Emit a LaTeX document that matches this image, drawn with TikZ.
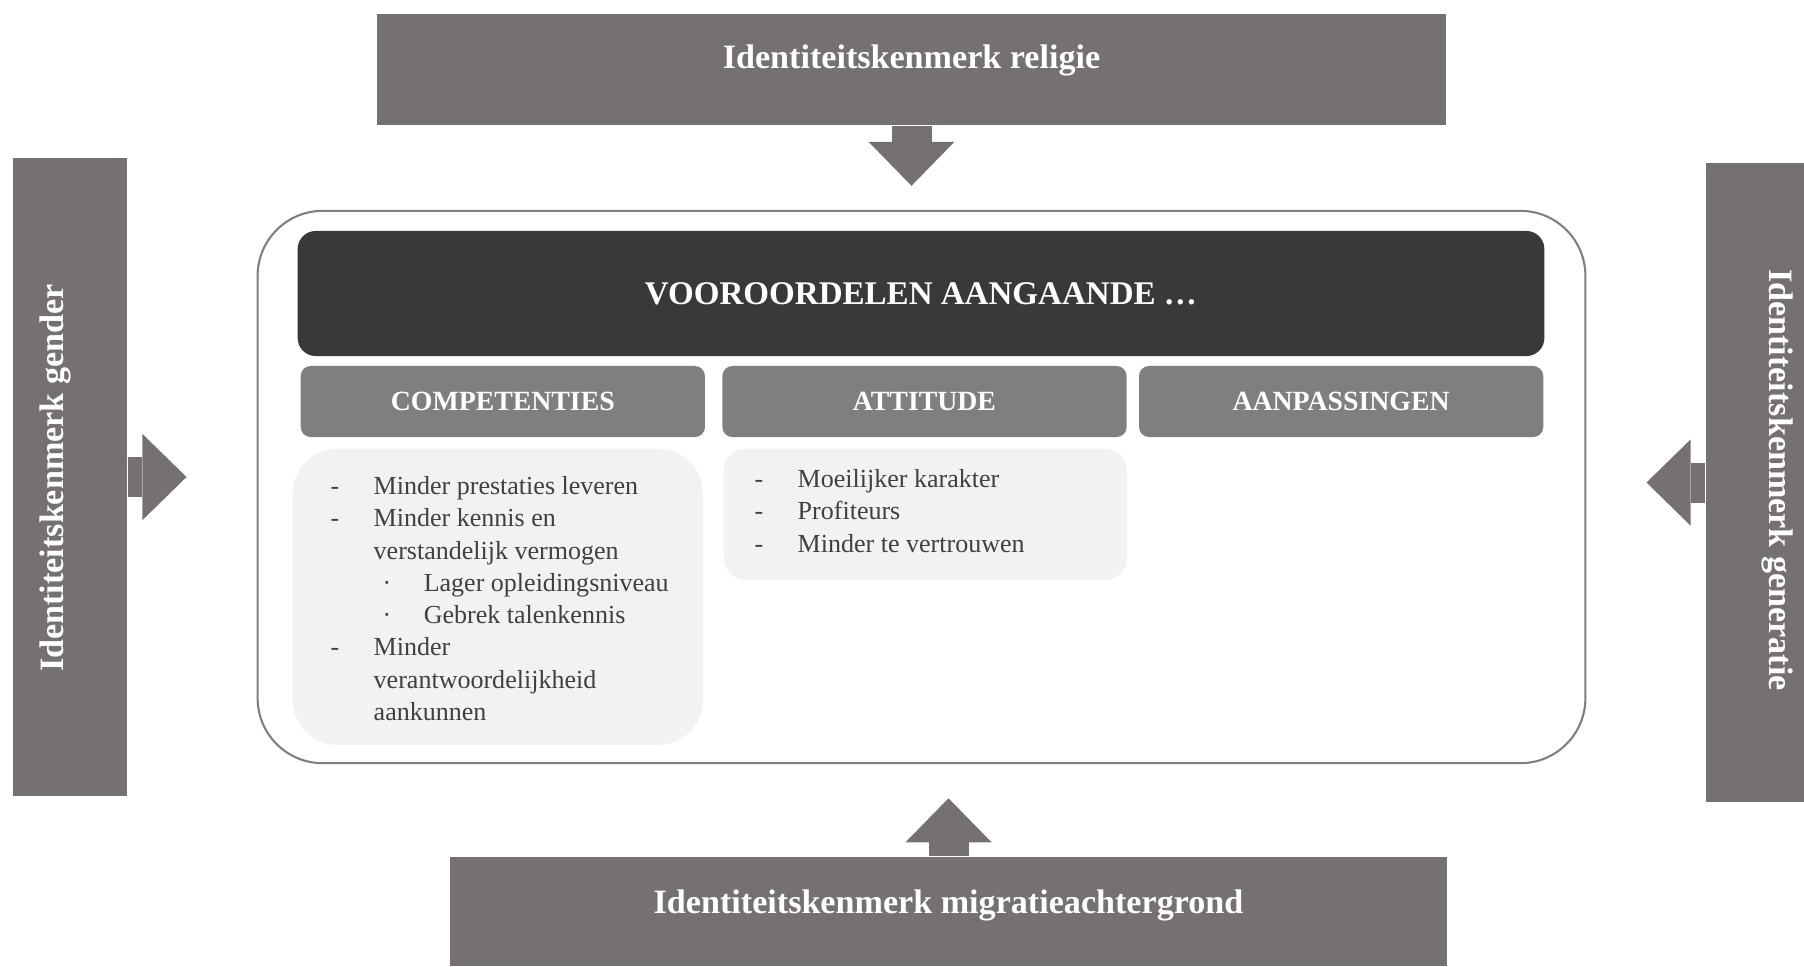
\documentclass[tikz,border=0pt]{standalone}
\usepackage{fontspec}
\setmainfont{Liberation Serif}
\usetikzlibrary{arrows.meta, positioning}

\definecolor{boxgray}{HTML}{767171}
\definecolor{headdark}{HTML}{3B3838}
\definecolor{catgray}{HTML}{7F7F7F}
\definecolor{listfill}{HTML}{F2F2F2}
\definecolor{itemgray}{HTML}{404040}
\definecolor{framegray}{HTML}{808080}

\newcommand{\listdash}{\makebox[0.43cm][l]{-}}
\newcommand{\listdot}{\hspace*{0.52cm}\makebox[0.41cm][l]{·}}
\newcommand{\listgap}{\hspace*{0.43cm}}

\begin{document}
\begin{tikzpicture}[
    x=0.01cm, y=-0.01cm,
    sidebox/.style={
        rectangle,
        fill=boxgray,
        inner sep=0pt
    },
    sidetext/.style={
        text=white,
        inner sep=0pt,
        font=\fontsize{9.7}{11.6}\selectfont\bfseries
    },
    frame/.style={
        rectangle,
        rounded corners=0.65cm,
        draw=framegray,
        line width=0.6pt,
        fill=white,
        minimum width=13.27cm,
        minimum height=5.52cm,
        inner sep=0pt
    },
    header/.style={
        rectangle,
        rounded corners=0.18cm,
        fill=headdark,
        text=white,
        minimum width=12.46cm,
        minimum height=1.25cm,
        inner sep=0pt,
        font=\fontsize{9.4}{11}\selectfont\bfseries
    },
    category/.style={
        rectangle,
        rounded corners=0.1cm,
        fill=catgray,
        text=white,
        minimum width=4.04cm,
        minimum height=0.71cm,
        inner sep=0pt,
        font=\fontsize{7.9}{9.5}\selectfont\bfseries
    },
    listbox/.style={
        rectangle,
        fill=listfill,
        inner sep=0pt
    },
    listtext/.style={
        text=itemgray,
        align=left,
        inner sep=0pt,
        font=\fontsize{7.4}{9.16}\selectfont
    },
    blockarrow/.style={draw=boxgray, line width=0.4cm,
        -{Triangle[width=0.86cm, length=0.44cm, line width=0pt]}}
]
\useasboundingbox (0,0) rectangle (1804,966);

% outer blocks
\node[sidebox, minimum width=10.69cm, minimum height=1.11cm] (religie) at (911.5,69.5) {};
\node[sidetext] (religielabel) at (911.5,60) {Identiteitskenmerk religie};

\node[sidebox, minimum width=1.14cm, minimum height=6.38cm] (gender) at (70,477) {};
\node[sidetext, rotate=90] (genderlabel) at (55,478) {Identiteitskenmerk gender};

\node[sidebox, minimum width=0.98cm, minimum height=6.39cm] (generatie) at (1755,482.5) {};
\node[sidetext, rotate=-90] (generatielabel) at (1778,480) {Identiteitskenmerk generatie};

\node[sidebox, minimum width=9.97cm, minimum height=1.09cm] (migratie) at (948.5,911.5) {};
\node[sidetext] (migratielabel) at (948.5,905) {Identiteitskenmerk migratieachtergrond};

% central frame
\node[frame] (kader) at (921.5,487) {};
\node[header] (vooroordelen) at (921,293.5) {VOOROORDELEN AANGAANDE …};

\node[category, anchor=west] (competenties) at (300,401.5) {COMPETENTIES};
\node[category, right=0.16cm of competenties] (attitude) {ATTITUDE};
\node[category, right=0.11cm of attitude] (aanpassingen) {AANPASSINGEN};

\node[listbox, rounded corners=0.45cm, minimum width=4.1cm, minimum height=2.96cm,
    anchor=north west] (competentiesbox) at (292,448) {};
\node[listbox, rounded corners=0.22cm, minimum width=4.03cm, minimum height=1.31cm,
    anchor=north west] (attitudebox) at (723,448) {};

\node[listtext, anchor=north west] (competentieslist) at (330,476) {%
    \listdash Minder prestaties leveren\\
    \listdash Minder kennis en\\
    \listgap verstandelijk vermogen\\
    \listdot Lager opleidingsniveau\\
    \listdot Gebrek talenkennis\\
    \listdash Minder\\
    \listgap verantwoordelijkheid\\
    \listgap aankunnen};

\node[listtext, anchor=north west] (attitudelist) at (754,469) {%
    \listdash Moeilijker karakter\\
    \listdash Profiteurs\\
    \listdash Minder te vertrouwen};

% Arrows
\draw[blockarrow, shorten >=0.24cm] (religie.south) -- (religie.south |- kader.north);
\draw[blockarrow, shorten >=0.70cm] (gender.east) -- (gender.east -| kader.west);
\draw[blockarrow, shorten >=0.60cm] (generatie.west) -- (generatie.west -| kader.east);
\draw[blockarrow, shorten >=0.34cm] (migratie.north) -- (migratie.north |- kader.south);

\end{tikzpicture}
\end{document}
